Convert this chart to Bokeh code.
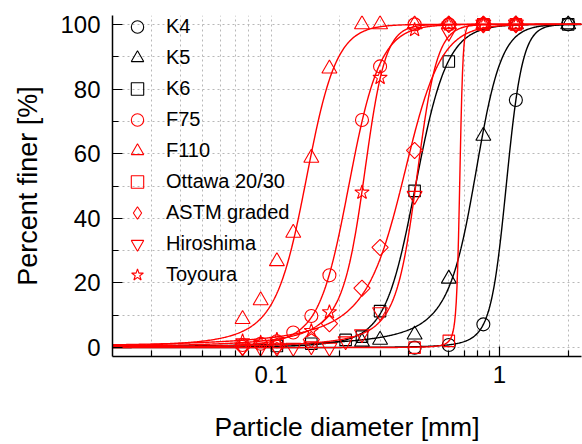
import numpy as np
from bokeh.plotting import figure
from bokeh.models import FixedTicker, CustomJSTickFormatter, Legend, LegendItem
from bokeh.embed import file_html
from bokeh.resources import INLINE

# ---- data: sieve opening [mm] and percent finer [%] ----
k4_d = [0.425, 0.6, 0.85, 1.18, 2.0]
k4_p = [0.0, 0.8, 7.2, 76.6, 100.0]
k5_d = [0.25, 0.3, 0.425, 0.6, 0.85, 1.18, 2.0]
k5_p = [1.8, 2.4, 4.0, 21.3, 65.5, 100.0, 100.0]
k6_d = [0.106, 0.15, 0.212, 0.25, 0.3, 0.425, 0.6, 0.85, 2.0]
k6_p = [0.5, 1.2, 2.4, 3.4, 11.3, 48.5, 88.5, 100.0, 100.0]
f75_d = [0.075, 0.09, 0.106, 0.125, 0.15, 0.18, 0.25, 0.3, 0.425, 0.6, 0.85, 1.18]
f75_p = [0.8, 1.2, 2.0, 4.7, 9.8, 22.4, 70.4, 87.0, 100.0, 100.0, 100.0, 100.0]
f110_d = [0.075, 0.09, 0.106, 0.125, 0.15, 0.18, 0.25, 0.3, 0.425, 0.6, 0.85, 1.18]
f110_p = [8.8, 14.6, 26.7, 35.5, 58.7, 86.3, 100.0, 100.0, 100.0, 100.0, 100.0, 100.0]
ottawa_d = [0.425, 0.6, 0.85, 1.18]
ottawa_p = [0.0, 2.1, 100.0, 100.0]
astm_d = [0.075, 0.106, 0.15, 0.18, 0.25, 0.3, 0.425, 0.6, 0.85, 1.18]
astm_p = [0.3, 0.5, 2.5, 7.4, 18.4, 31.0, 61.0, 100.0, 100.0, 100.0]
hiro_d = [0.075, 0.09, 0.106, 0.125, 0.15, 0.18, 0.212, 0.25, 0.3, 0.425, 0.6, 0.85, 1.18]
hiro_p = [0.0, 0.0, 0.0, 0.0, 0.5, 0.0, 2.0, 4.2, 11.0, 47.0, 97.5, 100.0, 100.0]
toy_d = [0.075, 0.09, 0.106, 0.15, 0.18, 0.25, 0.3, 0.425, 0.6, 0.85, 1.18]
toy_p = [2.0, 1.5, 2.5, 5.2, 11.0, 48.0, 83.5, 98.3, 100.0, 100.0, 100.0]

# fitted-curve parameters (a, n, m) read from the drawn curves where the points alone
# do not pin them down; the other curves are least-squares fits of the points
ottawa_fit = [0.673, 61.6, 2.0]
f110_fit = [0.148, 6.5, 2.0]

series_names = ["K4", "K5", "K6", "F75", "F110", "Ottawa 20/30", "ASTM graded", "Hiroshima", "Toyoura"]
series_d = [k4_d, k5_d, k6_d, f75_d, f110_d, ottawa_d, astm_d, hiro_d, toy_d]
series_p = [k4_p, k5_p, k6_p, f75_p, f110_p, ottawa_p, astm_p, hiro_p, toy_p]
series_fixed_fit = {"Ottawa 20/30": ottawa_fit, "F110": f110_fit}
series_color = ["black", "black", "black", "red", "red", "red", "red", "red", "red"]
series_marker = ["circle", "triangle", "square", "circle", "triangle", "square", "square", "inverted_triangle", "star"]
series_size = [13, 15, 11.5, 13, 15, 11.5, 11.5, 15, 15]
series_angle = [0, 0, 0, 0, 0, 0, np.pi / 4, 0, 0]

x_ticks = [0.1, 1.0]
x_minor = [0.02, 0.03, 0.04, 0.05, 0.06, 0.07, 0.08, 0.09,
           0.2, 0.3, 0.4, 0.5, 0.6, 0.7, 0.8, 0.9, 2.0]
y_ticks = [0, 20, 40, 60, 80, 100]
y_minor = [10, 30, 50, 70, 90]


def gsd_model(d, a, n, m):
    d = np.asarray(d, dtype=float)
    L = np.logaddexp(1.0, n * np.log(a / d))
    return 100.0 * np.exp(-m * np.log(L))


def fit_gsd(d, p):
    d = np.asarray(d, dtype=float)
    p = np.asarray(p, dtype=float)

    def search(las, ns, ms):
        best = (np.inf, None)
        X = las[:, None, None] - np.log(d)[None, None, :]
        Z = ns[None, :, None] * X
        logL = np.log(np.logaddexp(1.0, Z))
        for m in ms:
            pred = 100.0 * np.exp(-m * logL)
            sse = ((pred - p) ** 2).sum(-1)
            i = np.unravel_index(np.argmin(sse), sse.shape)
            if sse[i] < best[0]:
                best = (sse[i], (las[i[0]], ns[i[1]], m))
        return best[1]

    la, n, m = search(np.linspace(np.log(0.05), np.log(3.0), 241),
                      np.linspace(1.0, 40.0, 79), np.linspace(0.1, 5.0, 99))
    la, n, m = search(np.linspace(la - 0.03, la + 0.03, 41),
                      np.linspace(max(0.5, n - 0.6), n + 0.6, 41),
                      np.linspace(max(0.05, m - 0.06), m + 0.06, 41))
    return np.exp(la), n, m


p = figure(width=582, height=444, x_axis_type="log",
           x_range=(0.0202, 2.287), y_range=(-2.74, 102.74),
           output_backend="svg", toolbar_location=None,
           min_border_left=112, min_border_right=1, min_border_top=15, min_border_bottom=83)
p.outline_line_color = None
p.background_fill_color = "white"

xt = FixedTicker(ticks=x_ticks, minor_ticks=x_minor)
yt = FixedTicker(ticks=y_ticks, minor_ticks=y_minor)
p.xaxis.ticker = xt
p.yaxis.ticker = yt
p.xgrid.ticker = xt
p.ygrid.ticker = yt
p.xaxis.formatter = CustomJSTickFormatter(code="return String(tick);")

for g in (p.xgrid[0], p.ygrid[0]):
    g.grid_line_color = "#b8b8b8"
    g.grid_line_dash = "2 3"
    g.grid_line_width = 1
    g.minor_grid_line_color = "#b8b8b8"
    g.minor_grid_line_dash = "2 3"
    g.minor_grid_line_width = 1

for ax in (p.xaxis[0], p.yaxis[0]):
    ax.axis_line_width = 1.5
    ax.axis_line_color = "black"
    ax.major_tick_in = 10
    ax.major_tick_out = 0
    ax.minor_tick_in = 6
    ax.minor_tick_out = 0
    ax.major_tick_line_width = 1.2
    ax.minor_tick_line_width = 1.2
    ax.major_tick_line_color = "black"
    ax.minor_tick_line_color = "black"
    ax.major_label_text_font = "Liberation Sans"
    ax.major_label_text_font_size = "24px"
    ax.major_label_text_color = "black"
    ax.axis_label_text_font = "Liberation Sans"
    ax.axis_label_text_font_style = "normal"
    ax.axis_label_text_color = "black"

p.xaxis.axis_label = "Particle diameter [mm]"
p.yaxis.axis_label = "Percent finer [%]"
p.xaxis.axis_label_text_font_size = "26.5px"
p.yaxis.axis_label_text_font_size = "27px"
p.xaxis.major_label_standoff = 9
p.yaxis.major_label_standoff = 12
p.xaxis.axis_label_standoff = 26
p.yaxis.axis_label_standoff = 14

xs = np.logspace(np.log10(0.0202), np.log10(2.287), 600)
scatter_renderers = {}
for i, name in enumerate(series_names):
    if name in series_fixed_fit:
        a, n, m = series_fixed_fit[name]
    else:
        a, n, m = fit_gsd(series_d[i], series_p[i])
    p.line(xs, gsd_model(xs, a, n, m), line_color=series_color[i], line_width=1.4)
    r = p.scatter(series_d[i], series_p[i], marker=series_marker[i], size=series_size[i],
                  angle=series_angle[i], line_color=series_color[i], fill_color=None,
                  line_width=1.1)
    scatter_renderers[name] = r

# the legend draws markers unrotated, so the ASTM entry uses a diamond key glyph
# whose single row holds no drawable point (NaN)
astm_key = p.scatter(x=[np.nan], y=[np.nan], marker="diamond", size=18, line_color="red",
                     fill_color=None, line_width=1.1)
scatter_renderers["ASTM graded"] = astm_key

legend = Legend(items=[LegendItem(label=nm, renderers=[scatter_renderers[nm]]) for nm in series_names],
                location="top_left", margin=-4, padding=0, spacing=-7,
                glyph_width=58, glyph_height=31, label_height=20, label_standoff=-1,
                label_text_font="Liberation Sans", label_text_font_size="20px",
                label_text_color="black",
                background_fill_alpha=0, border_line_alpha=0)
p.add_layout(legend)

open("out.html", "w").write(file_html(p, INLINE))
